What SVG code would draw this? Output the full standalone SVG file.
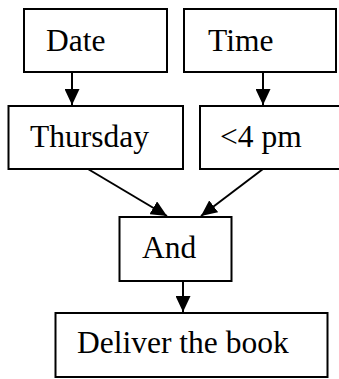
<svg xmlns="http://www.w3.org/2000/svg" width="339" height="379" viewBox="0 0 339 379">
<style>
.box{fill:#fff;stroke:#000;stroke-width:2}
.t{font-family:"Liberation Serif","Times New Roman",serif;font-size:31.5px;fill:#000}
.c{stroke:#000;stroke-width:2;fill:none}
</style>
<defs>
<marker id="ah" markerUnits="userSpaceOnUse" markerWidth="16" markerHeight="15" refX="16" refY="7.5" orient="auto" viewBox="0 0 16 15">
<path d="M0,0 L16,7.5 L0,15 Z" fill="#000"/>
</marker>
</defs>
<rect width="339" height="379" fill="#fff"/>
<g id="connectors">
<line class="c" x1="72" y1="72" x2="72" y2="105" marker-end="url(#ah)"/>
<line class="c" x1="263" y1="72" x2="263" y2="105" marker-end="url(#ah)"/>
<line class="c" x1="88" y1="169" x2="167" y2="216" marker-end="url(#ah)"/>
<line class="c" x1="263" y1="169" x2="201" y2="216" marker-end="url(#ah)"/>
<line class="c" x1="183" y1="281" x2="183" y2="312" marker-end="url(#ah)"/>
</g>
<g id="date"><rect class="box" x="24" y="9" width="143" height="63"/><text class="t" x="46" y="51">Date</text></g>
<g id="time"><rect class="box" x="184" y="9" width="152" height="63"/><text class="t" x="208" y="51">Time</text></g>
<g id="thursday"><rect class="box" x="8.5" y="106" width="174.5" height="63"/><text class="t" x="30" y="147">Thursday</text></g>
<g id="pm"><rect class="box" x="200" y="106" width="140" height="63"/><text class="t" x="220" y="147">&lt;4 pm</text></g>
<g id="and"><rect class="box" x="119.5" y="217" width="112" height="64"/><text class="t" x="142" y="258">And</text></g>
<g id="deliver"><rect class="box" x="55.5" y="313" width="272" height="64"/><text class="t" x="77" y="353">Deliver the book</text></g>
</svg>
